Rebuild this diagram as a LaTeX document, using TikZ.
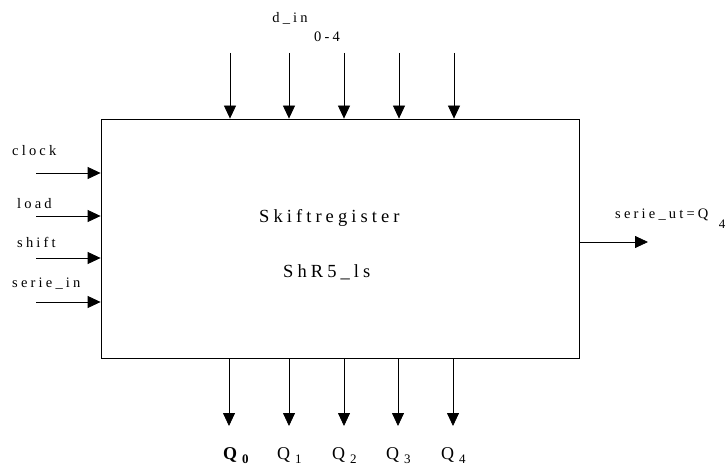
\documentclass[tikz,border=0pt]{standalone}
\usepackage{fontspec}
\setmainfont{Liberation Serif}
\newfontfamily\spc[LetterSpace=22]{Liberation Serif}
\usetikzlibrary{arrows.meta}
\begin{document}
\begin{tikzpicture}[x=1pt,y=-1pt,
  arr/.style={line width=0.8pt,-{Triangle[width=12pt,length=13pt]}},
  lbl/.style={inner sep=0pt,font=\spc\fontsize{14.5}{16}\selectfont},
  big/.style={inner sep=0pt,font=\spc\fontsize{18.5}{20}\selectfont},
  qlbl/.style={inner sep=0pt,anchor=base west,font=\fontsize{18}{20}\selectfont}]
\useasboundingbox (0,0) rectangle (728,468);
\node[draw,line width=0.8pt,minimum width=478pt,minimum height=239pt,inner sep=0pt] (box) at (340,238.5) {};
% top inputs
\foreach \i/\x in {1/230,2/289,3/344,4/399,5/454}{
  \coordinate (t\i) at (\x,53);
  \draw[arr] (t\i) -- (t\i |- box.north);
}
\node[lbl] (din) at (290,18) {d\_in};
\node[lbl] (range) at (327,37) {0-4};
% left inputs
\foreach \i/\y in {1/173,2/216,3/258,4/302}{
  \coordinate (l\i) at (36,\y);
  \draw[arr] (l\i) -- (l\i -| box.west);
}
\node[lbl,anchor=west] (clock) at (12,151) {clock};
\node[lbl,anchor=west] (load) at (17,204) {load};
\node[lbl,anchor=west] (shift) at (17,242) {shift};
\node[lbl,anchor=west] (serin) at (12,284) {serie\_in};
% centre text
\node[big,anchor=base west] (title) at (259,222) {Skiftregister};
\node[big,anchor=base west] (name) at (283,277) {ShR5\_ls};
% right output
\coordinate (o) at (648,242);
\draw[arr] (box.east |- o) -- (o);
\node[lbl,anchor=base west] (serout) at (615,218) {serie\_ut=Q};
\node[inner sep=0pt,anchor=base,font=\fontsize{13}{14}\selectfont] (serout4) at (722,228) {4};
% bottom outputs
\foreach \i/\x in {0/229,1/289,2/344,3/398,4/453}{
  \coordinate (q\i) at (\x,426);
  \draw[arr] (q\i |- box.south) -- (q\i);
}
\node[qlbl] (Q0) at (223,459) {\textbf{Q}\hspace{5pt}\raisebox{-4pt}{\fontsize{13}{14}\selectfont\textbf{0}}};
\node[qlbl] (Q1) at (277,459) {Q\hspace{5pt}\raisebox{-4pt}{\fontsize{13}{14}\selectfont 1}};
\node[qlbl] (Q2) at (332,459) {Q\hspace{5pt}\raisebox{-4pt}{\fontsize{13}{14}\selectfont 2}};
\node[qlbl] (Q3) at (386,459) {Q\hspace{5pt}\raisebox{-4pt}{\fontsize{13}{14}\selectfont 3}};
\node[qlbl] (Q4) at (441,459) {Q\hspace{5pt}\raisebox{-4pt}{\fontsize{13}{14}\selectfont 4}};
\end{tikzpicture}
\end{document}
